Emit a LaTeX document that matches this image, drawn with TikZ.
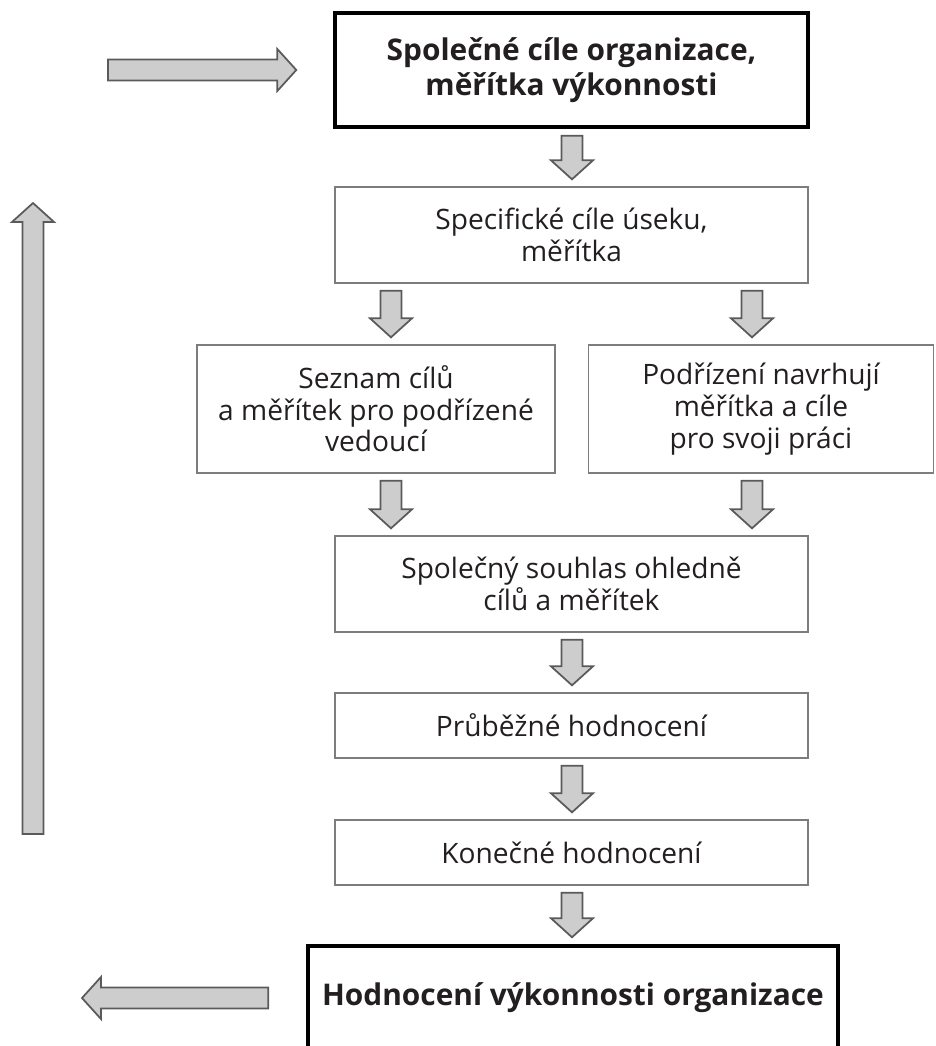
\documentclass[tikz,border=0pt]{standalone}
\usepackage{fontspec}
\setmainfont{Open Sans}
\usetikzlibrary{calc}
\definecolor{arrfill}{RGB}{205,205,205}
\definecolor{arrline}{RGB}{90,90,90}
\definecolor{boxline}{RGB}{125,125,125}
\definecolor{ink}{RGB}{35,31,32}
% block arrow sizes
\def\aw{0.21cm}
\def\ah{0.42cm}
\def\al{0.38cm}
% block arrow from tail #1 to tip #2
\newcommand{\blockarr}[2]{%
  \coordinate (bT) at #1; \coordinate (bP) at #2;
  \coordinate (bH) at ($(bP)!\al!(bT)$);
  \draw[blk] ($(bT)!\aw!90:(bP)$) -- ($(bH)!\aw!-90:(bT)$) -- ($(bH)!\ah!-90:(bT)$) -- (bP)
    -- ($(bH)!\ah!90:(bT)$) -- ($(bH)!\aw!90:(bT)$) -- ($(bT)!\aw!-90:(bP)$) -- cycle;}
% down arrow in column #1 from node #2 to node #3
\newcommand{\downarr}[3]{\blockarr{($(#2.south -| #1)+(0,7)$)}{($(#3.north -| #1)+(0,-7)$)}}
\begin{document}
\begin{tikzpicture}[x=0.02cm,y=-0.02cm,
    box/.style={draw=boxline,line width=0.8pt,fill=white,align=center,inner sep=0pt,
      text=ink,font=\fontsize{16}{18}\selectfont},
    key/.style={box,draw=black,line width=2pt,font=\fontsize{17}{20}\selectfont\bfseries},
    blk/.style={draw=arrline,fill=arrfill,line width=1pt,line join=miter}]
  \useasboundingbox (0,0) rectangle (936,1046);
  % columns
  \coordinate (cM) at (572,0);
  \coordinate (cL) at (391,0);
  \coordinate (cR) at (752,0);
  \node[key,minimum width=9.46cm,minimum height=2.28cm] (top) at (571.5,70)
    {Společné cíle organizace,\\měřítka výkonnosti};
  \node[box,minimum width=9.46cm,minimum height=1.92cm] (sec) at (571.5,235)
    {Specifické cíle úseku,\\měřítka};
  \node[box,minimum width=7.16cm,minimum height=2.56cm] (lst) at (376,409)
    {Seznam cílů\\a měřítek pro podřízené\\vedoucí};
  \node[box,minimum width=6.9cm,minimum height=2.56cm] (sub) at (761,409)
    {Podřízení navrhují\\měřítka a cíle\\pro svoji práci};
  \node[box,minimum width=9.46cm,minimum height=1.92cm] (agr) at (571.5,584)
    {Společný souhlas ohledně\\cílů a měřítek};
  \node[box,minimum width=9.46cm,minimum height=1.3cm] (prb) at (571.5,725.5)
    {Průběžné hodnocení};
  \node[box,minimum width=9.46cm,minimum height=1.3cm] (kon) at (571.5,852.5)
    {Konečné hodnocení};
  \node[key,minimum width=10.6cm,minimum height=2.08cm] (org) at (573,998)
    {Hodnocení výkonnosti organizace};
  % arrows
  \downarr{cM}{top}{sec}
  \downarr{cL}{sec}{lst}
  \downarr{cR}{sec}{sub}
  \downarr{cL}{lst}{agr}
  \downarr{cR}{sub}{agr}
  \downarr{cM}{agr}{prb}
  \downarr{cM}{prb}{kon}
  \downarr{cM}{kon}{org}
  \coordinate (inT) at (108,70);
  \blockarr{(inT)}{($(top.west)+(-37,0)$)}
  \coordinate (outL) at (82,998);
  \blockarr{($(org.west)+(-38,0)$)}{(outL)}
  % feedback
  \coordinate (fbB) at (33,834);
  \coordinate (fbT) at (33,203);
  \blockarr{(fbB)}{(fbT)}
\end{tikzpicture}
\end{document}
